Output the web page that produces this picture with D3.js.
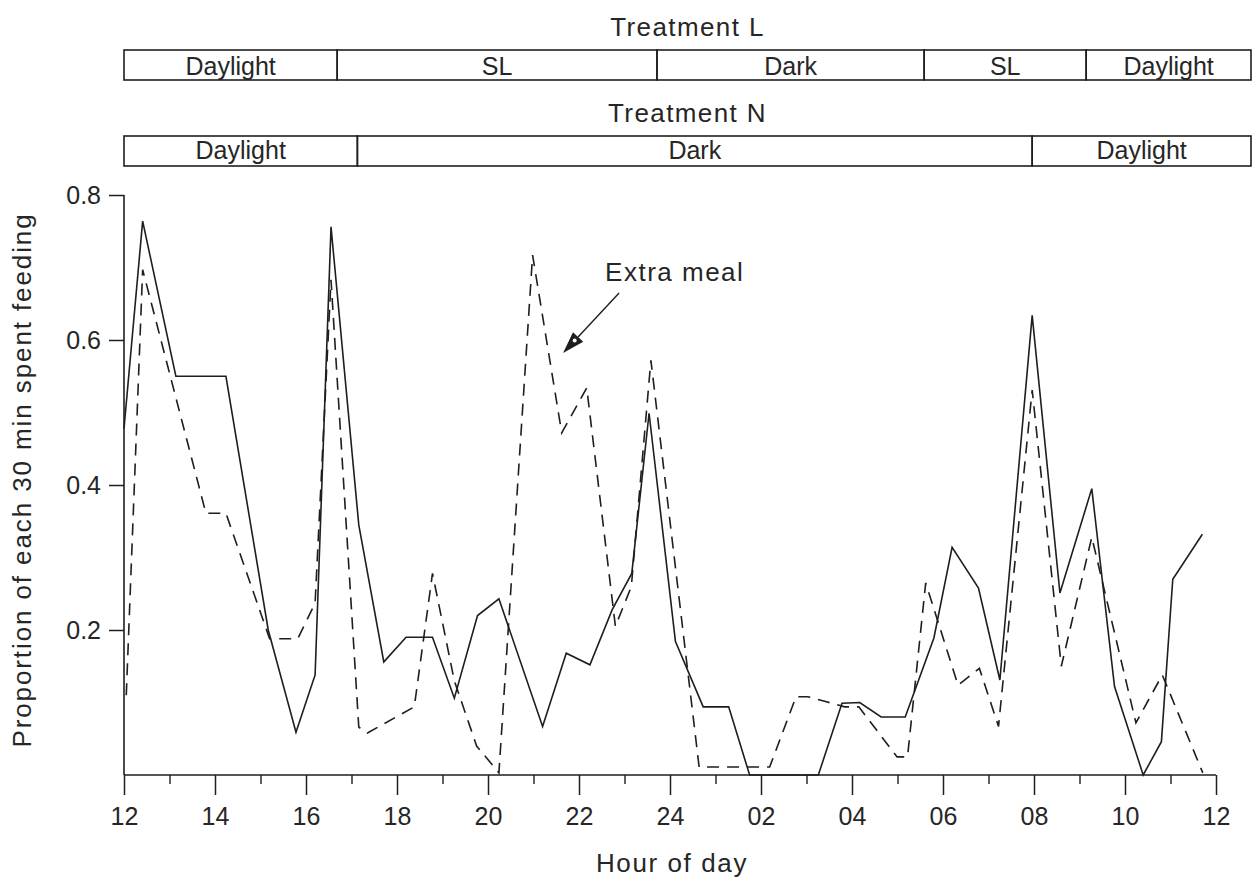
<!DOCTYPE html>
<html>
<head>
<meta charset="utf-8">
<script src="https://cdn.jsdelivr.net/npm/d3@7"></script>
<style>
  html, body { margin: 0; padding: 0; background: #fff; }
  svg { display: block; }
  text { font-family: "Liberation Sans", Arial, Helvetica, sans-serif; fill: #262626; }
</style>
</head>
<body>
<svg id="chart" width="1254" height="883"></svg>
<script>
// ---------------- data ----------------
// hours counted continuously from 12:00 (12) to 12:00 next day (36)
const solidHours  = [12.00,12.41,13.14,14.24,15.17,15.78,16.20,16.55,17.16,17.71,18.20,18.78,19.26,19.77,20.24,21.20,21.72,22.24,22.73,23.16,23.54,24.12,24.73,25.29,25.75,27.26,27.78,28.17,28.64,29.17,29.80,30.20,30.78,31.25,31.96,32.57,33.27,33.77,34.40,34.80,35.05,35.70];
const solidValues = [0.478,0.764,0.550,0.550,0.200,0.059,0.138,0.756,0.345,0.156,0.190,0.190,0.106,0.220,0.243,0.067,0.168,0.152,0.228,0.278,0.499,0.184,0.094,0.094,0.000,0.000,0.099,0.100,0.080,0.080,0.189,0.314,0.258,0.131,0.634,0.251,0.395,0.122,0.000,0.046,0.270,0.332];

const dashedHours  = [12.05,12.41,13.80,14.24,15.20,15.82,16.20,16.55,17.16,17.35,18.38,18.78,19.26,19.75,20.24,20.98,21.62,22.17,22.80,23.15,23.58,24.64,26.19,26.77,27.03,27.44,27.84,28.15,28.99,29.22,29.62,30.33,30.80,31.22,31.96,32.60,33.27,34.24,34.82,35.71];
const dashedValues = [0.110,0.697,0.361,0.361,0.188,0.188,0.237,0.683,0.066,0.058,0.094,0.278,0.130,0.040,0.003,0.717,0.472,0.534,0.205,0.260,0.572,0.011,0.011,0.108,0.108,0.101,0.094,0.094,0.025,0.025,0.265,0.124,0.147,0.067,0.531,0.150,0.328,0.072,0.138,0.003];

const xTickValues = [12,14,16,18,20,22,24,26,28,30,32,34,36];
const xTickLabels = ["12","14","16","18","20","22","24","02","04","06","08","10","12"];
const xMinorTicks = [13,15,17,19,21,23,25,27,29,31,33,35];
const yTickValues = [0.2,0.4,0.6,0.8];

// light regime bars
const treatmentLBounds = [12, 16.54, 23.35, 29.04, 32.49, 36];
const treatmentLLabels = ["Daylight","SL","Dark","SL","Daylight"];
const treatmentNBounds = [12, 16.97, 31.34, 36];
const treatmentNLabels = ["Daylight","Dark","Daylight"];

const annotation = { hour: 21.65, value: 0.582, text: "Extra meal" };

// ---------------- drawing ----------------
const svg = d3.select("#chart");
const ink = "#1e1e1e";

const x = d3.scaleLinear().domain([12, 36]).range([124, 1216]);
const y = d3.scaleLinear().domain([0, 0.8]).range([775, 195]);
const barX = d3.scaleLinear().domain([12, 36]).range([124, 1251]);

// regime bars
function regimeBar(title, titleY, bounds, labels, top, bottom, labelY) {
  svg.append("text").attr("x", (barX(12) + barX(36)) / 2).attr("y", titleY)
    .attr("text-anchor", "middle").style("font-size", "26px").style("letter-spacing", "1.4px")
    .text(title);
  const segs = labels.map((l, i) => ({ label: l, a: bounds[i], b: bounds[i + 1] }));
  const g = svg.append("g");
  g.selectAll("rect").data(segs).join("rect")
    .attr("x", d => barX(d.a)).attr("y", top)
    .attr("width", d => barX(d.b) - barX(d.a)).attr("height", bottom - top)
    .attr("fill", "none").attr("stroke", ink).attr("stroke-width", 1.6);
  g.selectAll("text").data(segs).join("text")
    .attr("x", d => (barX(d.a) + barX(d.b)) / 2).attr("y", labelY)
    .attr("text-anchor", "middle").style("font-size", "25px")
    .text(d => d.label);
}
regimeBar("Treatment L", 36, treatmentLBounds, treatmentLLabels, 50, 80, 75);
regimeBar("Treatment N", 122, treatmentNBounds, treatmentNLabels, 136, 166, 159);

// axes
const xAxis = d3.axisBottom(x).tickValues(xTickValues).tickSize(20).tickPadding(12)
  .tickFormat((d, i) => xTickLabels[i]);
const gx = svg.append("g").attr("transform", `translate(0,${y(0)})`).call(xAxis);
gx.select(".domain").remove();
gx.append("line").attr("x1", x(12)).attr("x2", x(36)).attr("y1", 0).attr("y2", 0)
  .attr("stroke", ink).attr("stroke-width", 1.6);
gx.selectAll(".tick line").attr("stroke", ink).attr("stroke-width", 1.5);
gx.selectAll(".tick text").style("font-size", "25px").attr("fill", "#262626")
  .style("font-family", "'Liberation Sans', Arial, sans-serif");

const gxm = svg.append("g").attr("transform", `translate(0,${y(0)})`)
  .call(d3.axisBottom(x).tickValues(xMinorTicks).tickSize(9).tickFormat(""));
gxm.select(".domain").remove();
gxm.selectAll(".tick line").attr("stroke", ink).attr("stroke-width", 1.4);

const yAxis = d3.axisLeft(y).tickValues(yTickValues).tickSize(15).tickPadding(8)
  .tickFormat(d3.format(".1f"));
const gy = svg.append("g").attr("transform", `translate(${x(12)},0)`).call(yAxis);
gy.select(".domain").remove();
gy.append("line").attr("x1", 0).attr("x2", 0).attr("y1", y(0.8)).attr("y2", y(0))
  .attr("stroke", ink).attr("stroke-width", 1.6);
gy.selectAll(".tick line").attr("stroke", ink).attr("stroke-width", 1.5);
gy.selectAll(".tick text").style("font-size", "25px").attr("fill", "#262626")
  .style("font-family", "'Liberation Sans', Arial, sans-serif");

// axis titles
svg.append("text").attr("x", 672).attr("y", 872).attr("text-anchor", "middle")
  .style("font-size", "26px").style("letter-spacing", "1.6px").text("Hour of day");
svg.append("text").attr("transform", "translate(31,480) rotate(-90)").attr("text-anchor", "middle")
  .style("font-size", "26px").style("letter-spacing", "1.9px")
  .text("Proportion of each 30 min spent feeding");

// series
const line = d3.line().x(d => x(d[0])).y(d => y(d[1]));
const solid = solidHours.map((h, i) => [h, solidValues[i]]);
const dashed = dashedHours.map((h, i) => [h, dashedValues[i]]);

svg.append("path").datum(dashed).attr("d", line).attr("fill", "none")
  .attr("stroke", ink).attr("stroke-width", 1.6).attr("stroke-dasharray", "12,8");
svg.append("path").datum(solid).attr("d", line).attr("fill", "none")
  .attr("stroke", ink).attr("stroke-width", 1.6).attr("stroke-linejoin", "miter");

// annotation
const tipX = x(annotation.hour), tipY = y(annotation.value);
const sx = tipX + 56, sy = tipY - 60;
const len = Math.hypot(tipX - sx, tipY - sy);
const ux = (tipX - sx) / len, uy = (tipY - sy) / len;
const bx = tipX - 22 * ux, by = tipY - 22 * uy;
svg.append("line").attr("x1", sx).attr("y1", sy).attr("x2", bx).attr("y2", by)
  .attr("stroke", ink).attr("stroke-width", 1.4);
svg.append("path")
  .attr("d", `M${tipX},${tipY} L${bx + 7 * uy},${by - 7 * ux} L${bx - 7 * uy},${by + 7 * ux} Z`)
  .attr("fill", ink);
svg.append("circle").attr("cx", bx + 5 * ux).attr("cy", by + 5 * uy).attr("r", 2).attr("fill", "#fff");
svg.append("text").attr("x", tipX + 42).attr("y", tipY - 72)
  .style("font-size", "26px").style("letter-spacing", "1.5px").text(annotation.text);
</script>
</body>
</html>
